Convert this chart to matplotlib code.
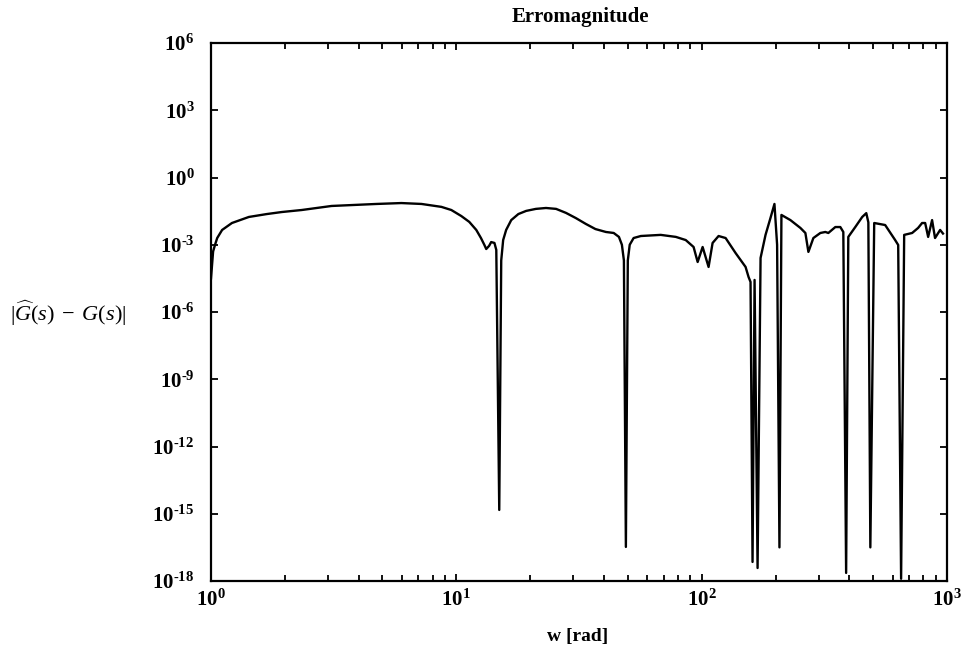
import numpy as np
import matplotlib
matplotlib.use("Agg")
import matplotlib.pyplot as plt
from matplotlib.ticker import FixedLocator, FuncFormatter, NullLocator

plt.rcParams['mathtext.fontset'] = 'custom'
plt.rcParams['mathtext.rm'] = 'Liberation Serif'
plt.rcParams['mathtext.it'] = 'Liberation Serif:italic'
plt.rcParams['mathtext.bf'] = 'Liberation Serif:bold'

# frequency samples [rad] and log10 of error magnitude
w = [1.0, 1.02, 1.04, 1.06, 1.11, 1.217, 1.427, 1.69, 1.944, 2.344, 3.10, 3.74, 4.73,
     5.97, 7.21, 8.69, 9.54, 10.48, 11.29, 12.06, 12.6, 13.0, 13.24, 13.6, 13.87, 14.3,
     14.55, 14.96, 15.24, 15.52, 15.96, 16.74, 17.9, 19.26, 21.1, 23.2, 25.5, 28.0,
     30.7, 33.7, 36.9, 40.7, 43.8, 46.0, 47.3, 48.2, 49.1, 50.0, 50.9, 52.8, 56.5,
     68.1, 78.5, 86.1, 92.7, 96.3, 100.9, 106.7, 110.8, 117.2, 125.2, 137.5, 151.0,
     155.3, 158.2, 161.2, 164.3, 169.0, 173.8, 182.1, 190.7, 198.0, 203.0, 207.5,
     211.4, 230.0, 252.6, 264.7, 272.3, 285.3, 304.6, 319.2, 328.3, 350.6, 367.4,
     377.9, 388.0, 396.0, 422.8, 451.3, 468.8, 478.0, 487.0, 505.0, 559.7, 614.6,
     632.5, 650.0, 669.0, 721.0, 762.5, 791.6, 814.7, 837.9, 869.4, 893.8, 937.5,
     963.0]
log_err = [-4.5, -3.3, -2.98, -2.7, -2.34, -2.03, -1.76, -1.63, -1.54, -1.45, -1.27,
           -1.23, -1.18, -1.14, -1.18, -1.31, -1.45, -1.72, -1.98, -2.34, -2.70, -3.0,
           -3.19, -3.05, -2.88, -2.92, -3.23, -14.83, -3.7, -2.79, -2.34, -1.90, -1.63,
           -1.49, -1.40, -1.36, -1.40, -1.58, -1.81, -2.07, -2.30, -2.43, -2.475, -2.65,
           -3.0, -3.7, -16.48, -3.7, -3.0, -2.70, -2.61, -2.56, -2.65, -2.79, -3.10,
           -3.77, -3.10, -3.99, -2.92, -2.61, -2.70, -3.37, -3.99, -4.44, -4.66,
           -17.15, -4.57, -17.42, -3.59, -2.56, -1.81, -1.18, -3.0, -16.5, -1.67,
           -1.90, -2.25, -2.475, -3.32, -2.70, -2.475, -2.43, -2.475, -2.21, -2.21,
           -2.43, -17.64, -2.65, -2.21, -1.76, -1.59, -2.0, -16.5, -2.03, -2.12,
           -2.79, -3.01, -17.9, -2.56, -2.475, -2.25, -2.03, -2.03, -2.65, -1.90,
           -2.70, -2.34, -2.5]
err = [10.0 ** e for e in log_err]

y_ticks = [1e-18, 1e-15, 1e-12, 1e-9, 1e-6, 1e-3, 1e0, 1e3, 1e6]
x_ticks = [1, 10, 100, 1000]


def tick_label(v, p):
    e = int(round(np.log10(v)))
    if e < 0:
        return r'10$^{\text{-}\mathbf{%d}}$' % (-e)
    return r'10$^{\mathbf{%d}}$' % e


fig = plt.figure(figsize=(9.63, 6.58), dpi=100)
ax = fig.add_axes([211/963, 1-581/658, (947-211)/963, (581-43)/658])
ax.plot(w, err, color='black', lw=1.7, solid_joinstyle='round')
ax.set_xscale('log')
ax.set_yscale('log')
ax.set_xlim(1, 1000)
ax.set_ylim(1e-18, 1e6)

fmt = FuncFormatter(tick_label)
ax.xaxis.set_major_locator(FixedLocator(x_ticks))
ax.xaxis.set_minor_locator(FixedLocator([m * 10**d for d in range(3) for m in range(2, 10)]))
ax.yaxis.set_major_locator(FixedLocator(y_ticks))
ax.yaxis.set_minor_locator(NullLocator())
ax.xaxis.set_major_formatter(fmt)
ax.yaxis.set_major_formatter(fmt)
ax.xaxis.set_minor_formatter(FuncFormatter(lambda v, p: ''))

ax.tick_params(which='both', direction='in', top=True, right=True, width=1.3)
ax.tick_params(which='major', length=5)
ax.tick_params(which='minor', length=4)
ax.tick_params(axis='y', which='major', pad=12)
ax.tick_params(axis='x', which='major', pad=6)
for lab in ax.get_xticklabels() + ax.get_yticklabels():
    lab.set_fontfamily('Liberation Serif')
    lab.set_fontweight('bold')
    lab.set_fontsize(15)
for s in ax.spines.values():
    s.set_linewidth(1.6)

fig.text(580/963, 1-17/658, 'Erromagnitude', ha='center', va='center',
         fontfamily='Liberation Serif', fontweight='bold', fontsize=15)
fig.text(578/963, 1-636/658, 'w [rad]', ha='center', va='center',
         fontfamily='Liberation Serif', fontweight='bold', fontsize=14)
fig.text(10/963, 1-313/658, r'$|\widehat{G}(s)\;-\;G(s)|$', ha='left', va='center',
         fontsize=16)

fig.savefig('out.png', dpi=100)
